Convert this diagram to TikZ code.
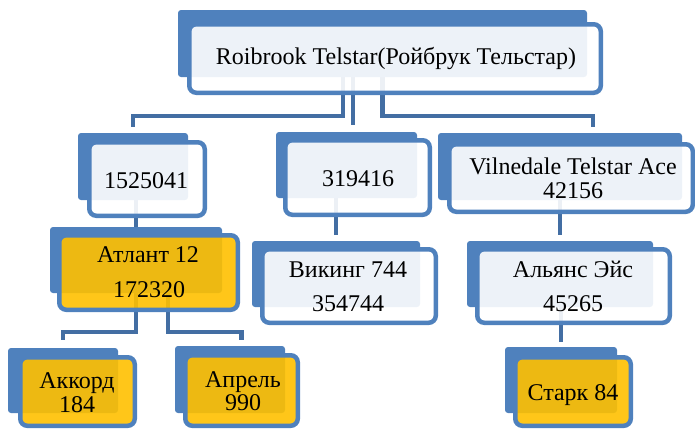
\documentclass[tikz,border=0pt]{standalone}
\usepackage{fontspec}
\setmainfont{Liberation Serif}
\usetikzlibrary{fit,backgrounds}

\definecolor{tabblue}{HTML}{4F81BD}
\definecolor{linkblue}{HTML}{436EA3}
\definecolor{goldfill}{HTML}{FFC000}

\tikzset{
  tab/.style={fill=tabblue, rounded corners=3pt, inner sep=0pt},
  card/.style={draw=tabblue, line width=4.5pt, rounded corners=7pt,
               fill opacity=0.9, draw opacity=1, inner sep=-2.25pt},
  whitecard/.style={card, fill=white},
  goldcard/.style={card, fill=goldfill},
  link/.style={draw=linkblue, line width=4.5pt},
  txt/.style={font=\fontsize{24}{26}\selectfont, inner sep=0pt, anchor=base, text=black}
}

\begin{document}
\begin{tikzpicture}[x=1pt,y=-1pt]
\useasboundingbox (0,0) rectangle (695,429);

% ---- level 0
\node[tab, fit={(178,10)(587,77)}] (rootb) {};
\node[whitecard, fit={(187,22)(603,95)}] (root) {};
\node[txt] (roott) at (396,64) {Roibrook Telstar(Ройбрук Тельстар)};

% ---- level 1
\node[tab, fit={(78,133)(188,200)}] (n1b) {};
\node[whitecard, fit={(87,140)(207,218)}] (n1) {};
\node[txt] (n1t) at (146,188) {1525041};

\node[tab, fit={(276,132)(417,198)}] (n2b) {};
\node[whitecard, fit={(283,138)(432,217)}] (n2) {};
\node[txt] (n2t) at (358,186) {319416};

\node[tab, fit={(438,133)(682,200)}] (n3b) {};
\node[whitecard, fit={(447,142)(695,214)}] (n3) {};
\node[txt] (n3t1) at (573,174) {Vilnedale Telstar Ace};
\node[txt] (n3t2) at (573,198) {42156};

% ---- level 2
\node[tab, fit={(50,227)(222,293)}] (n4b) {};
\node[goldcard, fit={(57,233)(240,312)}] (n4) {};
\node[txt] (n4t1) at (148,262) {Атлант 12};
\node[txt] (n4t2) at (149,297) {172320};

\node[tab, fit={(252,241)(420,307)}] (n5b) {};
\node[whitecard, fit={(260,247)(438,325)}] (n5) {};
\node[txt] (n5t1) at (348,277) {Викинг 744};
\node[txt] (n5t2) at (348,311) {354744};

\node[tab, fit={(467,241)(653,307)}] (n6b) {};
\node[whitecard, fit={(475,247)(672,325)}] (n6) {};
\node[txt] (n6t1) at (573,277) {Альянс Эйс};
\node[txt] (n6t2) at (573,311) {45265};

% ---- level 3
\node[tab, fit={(8,348)(118,413)}] (n7b) {};
\node[goldcard, fit={(18,355)(137,428)}] (n7) {};
\node[txt] (n7t1) at (77,388) {Аккорд};
\node[txt] (n7t2) at (77,412) {184};

\node[tab, fit={(175,346)(285,413)}] (n8b) {};
\node[goldcard, fit={(183,353)(300,428)}] (n8) {};
\node[txt] (n8t1) at (243,387) {Апрель};
\node[txt] (n8t2) at (243,410) {990};

\node[tab, fit={(505,347)(617,413)}] (n9b) {};
\node[goldcard, fit={(513,355)(633,428)}] (n9) {};
\node[txt] (n9t) at (573,400) {Старк 84};

% ---- connectors, drawn beneath the cards
\coordinate (busT) at ([yshift=-21pt]root.south);
\coordinate (r1) at ([xshift=-39.5pt]rootb.south);
\coordinate (r2) at ([xshift=-29.5pt]rootb.south);
\coordinate (n3in) at ([xshift=33pt]n3b.north);
\coordinate (busA) at ([yshift=-20pt]n4.south);
\coordinate (a2) at ([xshift=32pt]n4b.south);

\begin{scope}[on background layer]
  \draw[link, shorten >=6pt] (r1) |- (n1b.north |- busT) -- (n1b.north);
  \draw[link, shorten >=7pt] (r2) -- (r2 |- n2b.north);
  \draw[link, shorten >=6pt] (rootb.south) |- (n3in |- busT) -- (n3in);

  \draw[link] (n4b.north |- n1b.south) -- (n4b.north);
  \draw[link, shorten >=6pt] (n5b.north |- n2b.south) -- (n5b.north);
  \draw[link, shorten >=6pt] (n6b.north |- n3b.south) -- (n6b.north);

  \draw[link, shorten >=8pt] (n4b.south) |- (n7b.north |- busA) -- (n7b.north);
  \draw[link, shorten >=6pt] (a2) |- (n8.north |- busA) -- (n8.north |- n8b.north);
  \draw[link, shorten >=5pt] (n9b.north |- n6b.south) -- (n9b.north);
\end{scope}
\end{tikzpicture}
\end{document}
